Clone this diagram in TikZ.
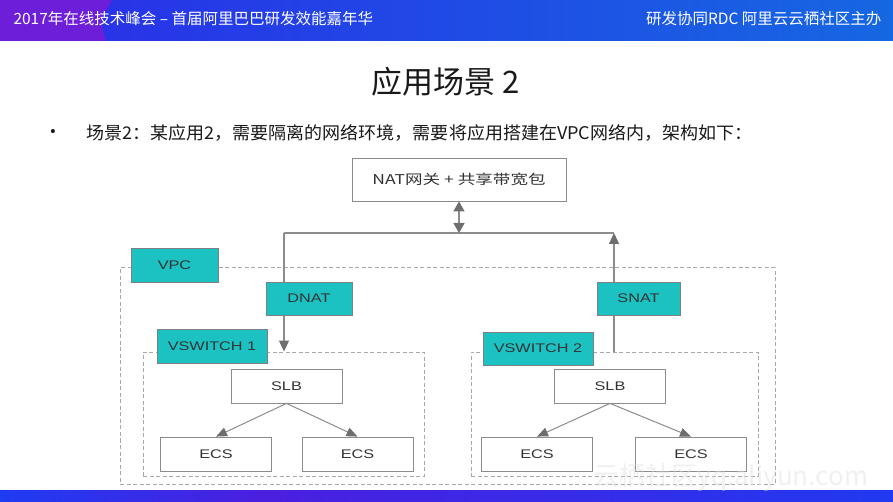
\documentclass[tikz,border=0pt]{standalone}
\usepackage{fontspec}
\setmainfont{Liberation Sans}
\newfontfamily\cjk{Noto Sans CJK SC}
\newfontfamily\cjkline[FakeStretch=1.03]{Noto Sans CJK SC}
\newfontfamily\cjkwide[FakeStretch=1.3]{Noto Sans CJK SC}
\newfontfamily\latwide[FakeStretch=1.3]{Liberation Sans}
\usetikzlibrary{arrows.meta}
\definecolor{tealbox}{HTML}{1CC2C2}
\definecolor{linegray}{HTML}{8C8C8C}
\definecolor{tipgray}{HTML}{6E6E6E}
\definecolor{dashgray}{HTML}{A8A8A8}
\definecolor{textgray}{HTML}{333333}
\definecolor{barpurple}{HTML}{6C1ED8}
\definecolor{barblue}{HTML}{2A2DE8}
\definecolor{barsky}{HTML}{1667E2}
\definecolor{barbright}{HTML}{1E3CF2}
\definecolor{barviolet}{HTML}{4B1FE0}

\begin{document}
\begin{tikzpicture}[x=1pt,y=-1pt,
    box/.style={draw=linegray, line width=0.8pt, fill=white, inner sep=0pt,
      minimum width=111pt, minimum height=34pt, text=textgray,
      font=\latwide\fontsize{12.5}{14}\selectfont},
    tag/.style={draw=gray, line width=0.5pt, fill=tealbox, inner sep=0pt,
      minimum height=33pt, text=textgray,
      font=\latwide\fontsize{12.5}{14}\selectfont},
    zone/.style={draw=dashgray, line width=1pt, dash pattern=on 4pt off 2.5pt, inner sep=0pt},
    wire/.style={draw=linegray, line width=1.3pt},
    link/.style={wire, -{Triangle[length=11pt,width=10pt,color=tipgray]}},
    fan/.style={draw=linegray, line width=1pt, -{Triangle[length=11pt,width=9pt,color=tipgray]}}]
    \useasboundingbox (0,0) rectangle (893,502);
    \fill[white] (0,0) rectangle (893,502);

    \shade[left color=barblue, middle color=barblue!80!barsky, right color=barsky]
        (0,0) rectangle (893,41);
    \fill[barpurple] (0,0) -- (112,0) .. controls (100,20) .. (106,41) -- (0,41) -- cycle;
    \shade[left color=barbright, right color=barviolet] (0,490) rectangle (262,502);
    \shade[left color=barviolet, right color=barbright!80!barblue] (262,490) rectangle (893,502);

    \node[anchor=west, text=white, font=\cjk\fontsize{15.5}{17}\selectfont] (event) at (10,19)
        {2017年在线技术峰会 – 首届阿里巴巴研发效能嘉年华};
    \node[anchor=east, text=white, font=\cjk\fontsize{15.5}{17}\selectfont] (host) at (885,19)
        {研发协同RDC 阿里云云栖社区主办};
    \node[text=black!90, font=\cjk\fontsize{31}{34}\selectfont] (title) at (446,82) {应用场景 2};
    \node[text=black!90, font=\fontsize{15}{16}\selectfont] (dot) at (53,133) {\textbullet};
    \node[anchor=west, text=black!90, font=\cjkline\fontsize{17.5}{20}\selectfont] (intro) at (83,133)
        {场景2：某应用2，需要隔离的网络环境，需要将应用搭建在VPC网络内，架构如下：};

    \node[zone, minimum width=655pt, minimum height=216pt] (vpc) at (447.5,376) {};
    \node[zone, minimum width=281pt, minimum height=124pt] (vsw1) at (283.5,414) {};
    \node[zone, minimum width=287pt, minimum height=124pt] (vsw2) at (614.5,414) {};

    \node[box, minimum width=214pt, minimum height=43pt, font=\cjkwide\fontsize{13.5}{15}\selectfont]
        (nat) at (459,179.5) {NAT网关 + 共享带宽包};
    \coordinate (busL) at (284,233);
    \coordinate (busR) at (614,233);
    \draw[wire] (busL) -- (busR);
    \draw[wire, {Triangle[length=10pt,width=11pt,color=tipgray]}-{Triangle[length=10pt,width=11pt,color=tipgray]}]
        (nat.south) -- (nat.south |- busL);
    \draw[link] (busL) -- (busL |- vsw1.north);
    \draw[link] (busR |- vsw2.north) -- (busR);

    \node[tag, minimum width=87pt, minimum height=34pt] (vpctag) at (174.5,265) {VPC};
    \node[tag, minimum width=86pt] (dnat) at (309,298.5) {DNAT};
    \node[tag, minimum width=83pt] (snat) at (638.5,298.5) {SNAT};
    \node[tag, minimum width=110pt, minimum height=34pt] (vsw1tag) at (212,346) {VSWITCH 1};
    \node[tag, minimum width=110pt] (vsw2tag) at (538,348.5) {VSWITCH 2};

    \node[box] (slb1) at (286.5,386) {SLB};
    \node[box] (ecs1) at (216,454) {ECS};
    \node[box] (ecs2) at (357.5,454) {ECS};
    \node[box] (slb2) at (610,386) {SLB};
    \node[box] (ecs3) at (537,454) {ECS};
    \node[box] (ecs4) at (691,454) {ECS};
    \draw[fan] (slb1.south) -- (ecs1.north);
    \draw[fan] (slb1.south) -- (ecs2.north);
    \draw[fan] (slb2.south) -- (ecs3.north);
    \draw[fan] (slb2.south) -- (ecs4.north);

    \node[anchor=west, text=gray!25, opacity=0.45, font=\cjk\fontsize{26}{28}\selectfont]
        (mark) at (590,478) {云栖社区yq.aliyun.com};
\end{tikzpicture}
\end{document}
